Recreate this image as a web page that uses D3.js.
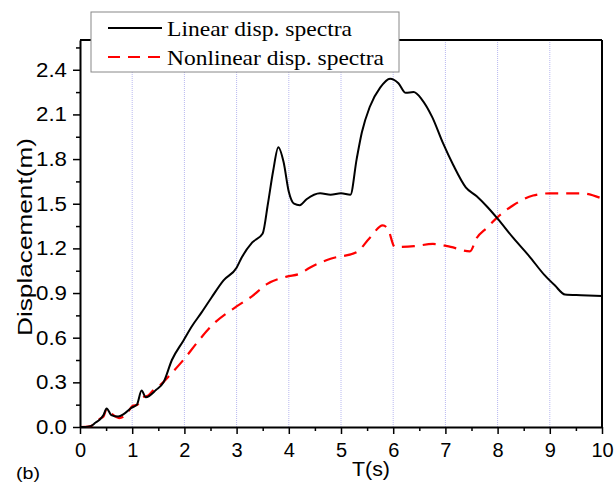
<!DOCTYPE html>
<html>
<head>
<meta charset="utf-8">
<script src="https://cdn.jsdelivr.net/npm/d3@7"></script>
<style>
  body { margin: 0; background: #fff; }
  svg { display: block; }
</style>
</head>
<body>
<div id="chart"></div>
<script>
// Data
var periods = [0, 0.1, 0.2, 0.3, 0.38, 0.45, 0.51, 0.6, 0.73, 0.85, 0.99, 1.09, 1.18, 1.26, 1.46, 1.6, 1.76, 1.98, 2.15, 2.33, 2.52, 2.75, 3.0, 3.1, 3.3, 3.5, 3.6, 3.7, 3.8, 3.9, 4.0, 4.1, 4.21, 4.34, 4.6, 4.8, 5.0, 5.18, 5.3, 5.4, 5.55, 5.75, 5.94, 6.1, 6.24, 6.39, 6.55, 6.75, 6.95, 7.15, 7.39, 7.6, 7.8, 8.0, 8.3, 8.6, 8.9, 9.1, 9.29, 9.6, 10];
var linearDisp = [0, 0, 0.005, 0.03, 0.05, 0.08, 0.125, 0.08, 0.07, 0.09, 0.13, 0.15, 0.245, 0.2, 0.25, 0.3, 0.45, 0.58, 0.68, 0.77, 0.87, 0.985, 1.07, 1.14, 1.24, 1.3, 1.5, 1.72, 1.88, 1.78, 1.58, 1.5, 1.49, 1.53, 1.57, 1.56, 1.57, 1.56, 1.8, 1.98, 2.15, 2.28, 2.34, 2.31, 2.245, 2.25, 2.2, 2.08, 1.91, 1.76, 1.61, 1.55, 1.48, 1.4, 1.27, 1.15, 1.02, 0.95, 0.89, 0.885, 0.88];

var nlPeriods = [0, 0.2, 0.3, 0.38, 0.45, 0.51, 0.6, 0.75, 0.9, 1.0, 1.1, 1.2, 1.3, 1.41, 1.53, 1.75, 1.98, 2.25, 2.52, 3.0, 3.3, 3.58, 3.96, 4.21, 4.4, 4.8, 5.3, 5.55, 5.8, 5.9, 6.03, 6.4, 6.76, 7.1, 7.47, 7.6, 7.8, 8.0, 8.3, 8.68, 9.0, 9.3, 9.6, 10];
var nonlinearDisp = [0, 0.005, 0.03, 0.055, 0.07, 0.12, 0.09, 0.06, 0.09, 0.14, 0.15, 0.2, 0.21, 0.25, 0.28, 0.36, 0.45, 0.57, 0.68, 0.81, 0.88, 0.96, 1.01, 1.03, 1.07, 1.13, 1.175, 1.27, 1.355, 1.33, 1.21, 1.215, 1.23, 1.21, 1.18, 1.27, 1.34, 1.41, 1.49, 1.555, 1.57, 1.57, 1.57, 1.535];

var xTicks = [0, 1, 2, 3, 4, 5, 6, 7, 8, 9, 10];
var yTicks = [0.0, 0.3, 0.6, 0.9, 1.2, 1.5, 1.8, 2.1, 2.4];

var margin = {top: 40, right: 14, bottom: 58, left: 80};
var width = 616 - margin.left - margin.right;
var height = 485 - margin.top - margin.bottom;
var sans = "'Liberation Sans', Arial, sans-serif";

var svgRoot = d3.select("#chart").append("svg")
  .attr("width", 616)
  .attr("height", 485);

var svg = svgRoot.append("g")
  .attr("transform", "translate(" + margin.left + "," + margin.top + ")");

var x = d3.scaleLinear().domain([0, 10]).range([0, width]);
var y = d3.scaleLinear().domain([0, 2.6]).range([height, 0]);

// vertical dotted grid lines
svg.append("g")
  .selectAll("line")
  .data(xTicks.slice(1, -1))
  .enter().append("line")
  .attr("x1", d => x(d)).attr("x2", d => x(d))
  .attr("y1", 0).attr("y2", height)
  .attr("stroke", "#b8b8f0")
  .attr("stroke-width", 1)
  .attr("stroke-dasharray", "1,1");

// minor ticks
svg.append("g")
  .attr("transform", "translate(0," + height + ")")
  .call(d3.axisBottom(x).tickValues(d3.range(0.5, 10, 1)).tickSize(4).tickFormat(""))
  .call(g => g.select(".domain").remove())
  .selectAll("line").attr("stroke-width", 1.5);

svg.append("g")
  .call(d3.axisLeft(y).tickValues(d3.range(0.15, 2.6, 0.3)).tickSize(4).tickFormat(""))
  .call(g => g.select(".domain").remove())
  .selectAll("line").attr("stroke-width", 1.5);

// major axes
var xAxis = svg.append("g")
  .attr("transform", "translate(0," + height + ")")
  .call(d3.axisBottom(x).tickValues(xTicks).tickSize(7).tickSizeOuter(0).tickPadding(9));

var yAxis = svg.append("g")
  .call(d3.axisLeft(y).tickValues(yTicks).tickFormat(d3.format(".1f")).tickSize(7).tickSizeOuter(0).tickPadding(6));

[xAxis, yAxis].forEach(g => {
  g.selectAll("line").attr("stroke-width", 1.5);
  g.select(".domain").attr("stroke-width", 2);
  g.selectAll("text")
    .attr("fill", "#000")
    .style("font-family", sans)
    .style("font-size", "20px");
});
yAxis.selectAll("text")
  .attr("textLength", 31)
  .attr("lengthAdjust", "spacingAndGlyphs");

// top and right frame
svg.append("line")
  .attr("x1", 0).attr("x2", width).attr("y1", 0).attr("y2", 0)
  .attr("stroke", "#000").attr("stroke-width", 2);
svg.append("line")
  .attr("x1", width).attr("x2", width).attr("y1", 0).attr("y2", height)
  .attr("stroke", "#000").attr("stroke-width", 2);

// lines
var lineLin = d3.line()
  .x((d, i) => x(periods[i]))
  .y(d => y(d))
  .curve(d3.curveMonotoneX);

var lineNl = d3.line()
  .x((d, i) => x(nlPeriods[i]))
  .y(d => y(d))
  .curve(d3.curveMonotoneX);

svg.append("path")
  .datum(nonlinearDisp)
  .attr("fill", "none")
  .attr("stroke", "#ff0000")
  .attr("stroke-width", 2.2)
  .attr("stroke-dasharray", "13,8")
  .attr("d", lineNl);

svg.append("path")
  .datum(linearDisp)
  .attr("fill", "none")
  .attr("stroke", "#000")
  .attr("stroke-width", 2)
  .attr("d", lineLin);

// axis labels
svgRoot.append("text")
  .attr("x", 371)
  .attr("y", 476)
  .attr("text-anchor", "middle")
  .attr("textLength", 38)
  .attr("lengthAdjust", "spacingAndGlyphs")
  .style("font-family", sans)
  .style("font-size", "20px")
  .text("T(s)");

svgRoot.append("text")
  .attr("transform", "rotate(-90)")
  .attr("x", -237)
  .attr("y", 32)
  .attr("text-anchor", "middle")
  .attr("textLength", 198)
  .attr("lengthAdjust", "spacingAndGlyphs")
  .style("font-family", sans)
  .style("font-size", "20px")
  .text("Displacement(m)");

svgRoot.append("text")
  .attr("x", 16)
  .attr("y", 479)
  .attr("textLength", 24)
  .attr("lengthAdjust", "spacingAndGlyphs")
  .style("font-family", sans)
  .style("font-size", "17px")
  .text("(b)");

// legend
var legend = svgRoot.append("g").attr("transform", "translate(91,12)");

legend.append("rect")
  .attr("width", 308)
  .attr("height", 60)
  .attr("fill", "#fff")
  .attr("stroke", "#888")
  .attr("stroke-width", 1);

var legendItems = [
  {label: "Linear disp. spectra", color: "#000", dash: null, len: 185},
  {label: "Nonlinear disp. spectra", color: "#ff0000", dash: "12,8", len: 217}
];

legendItems.forEach((item, i) => {
  var row = legend.append("g").attr("transform", "translate(0," + (16 + i * 29) + ")");
  row.append("line")
    .attr("x1", 17).attr("x2", 71)
    .attr("y1", 0).attr("y2", 0)
    .attr("stroke", item.color)
    .attr("stroke-width", 2)
    .attr("stroke-dasharray", item.dash);
  row.append("text")
    .attr("x", 76)
    .attr("y", 8)
    .attr("textLength", item.len)
    .attr("lengthAdjust", "spacingAndGlyphs")
    .style("font-family", "'Liberation Serif', 'Times New Roman', serif")
    .style("font-size", "21px")
    .text(item.label);
});
</script>
</body>
</html>
